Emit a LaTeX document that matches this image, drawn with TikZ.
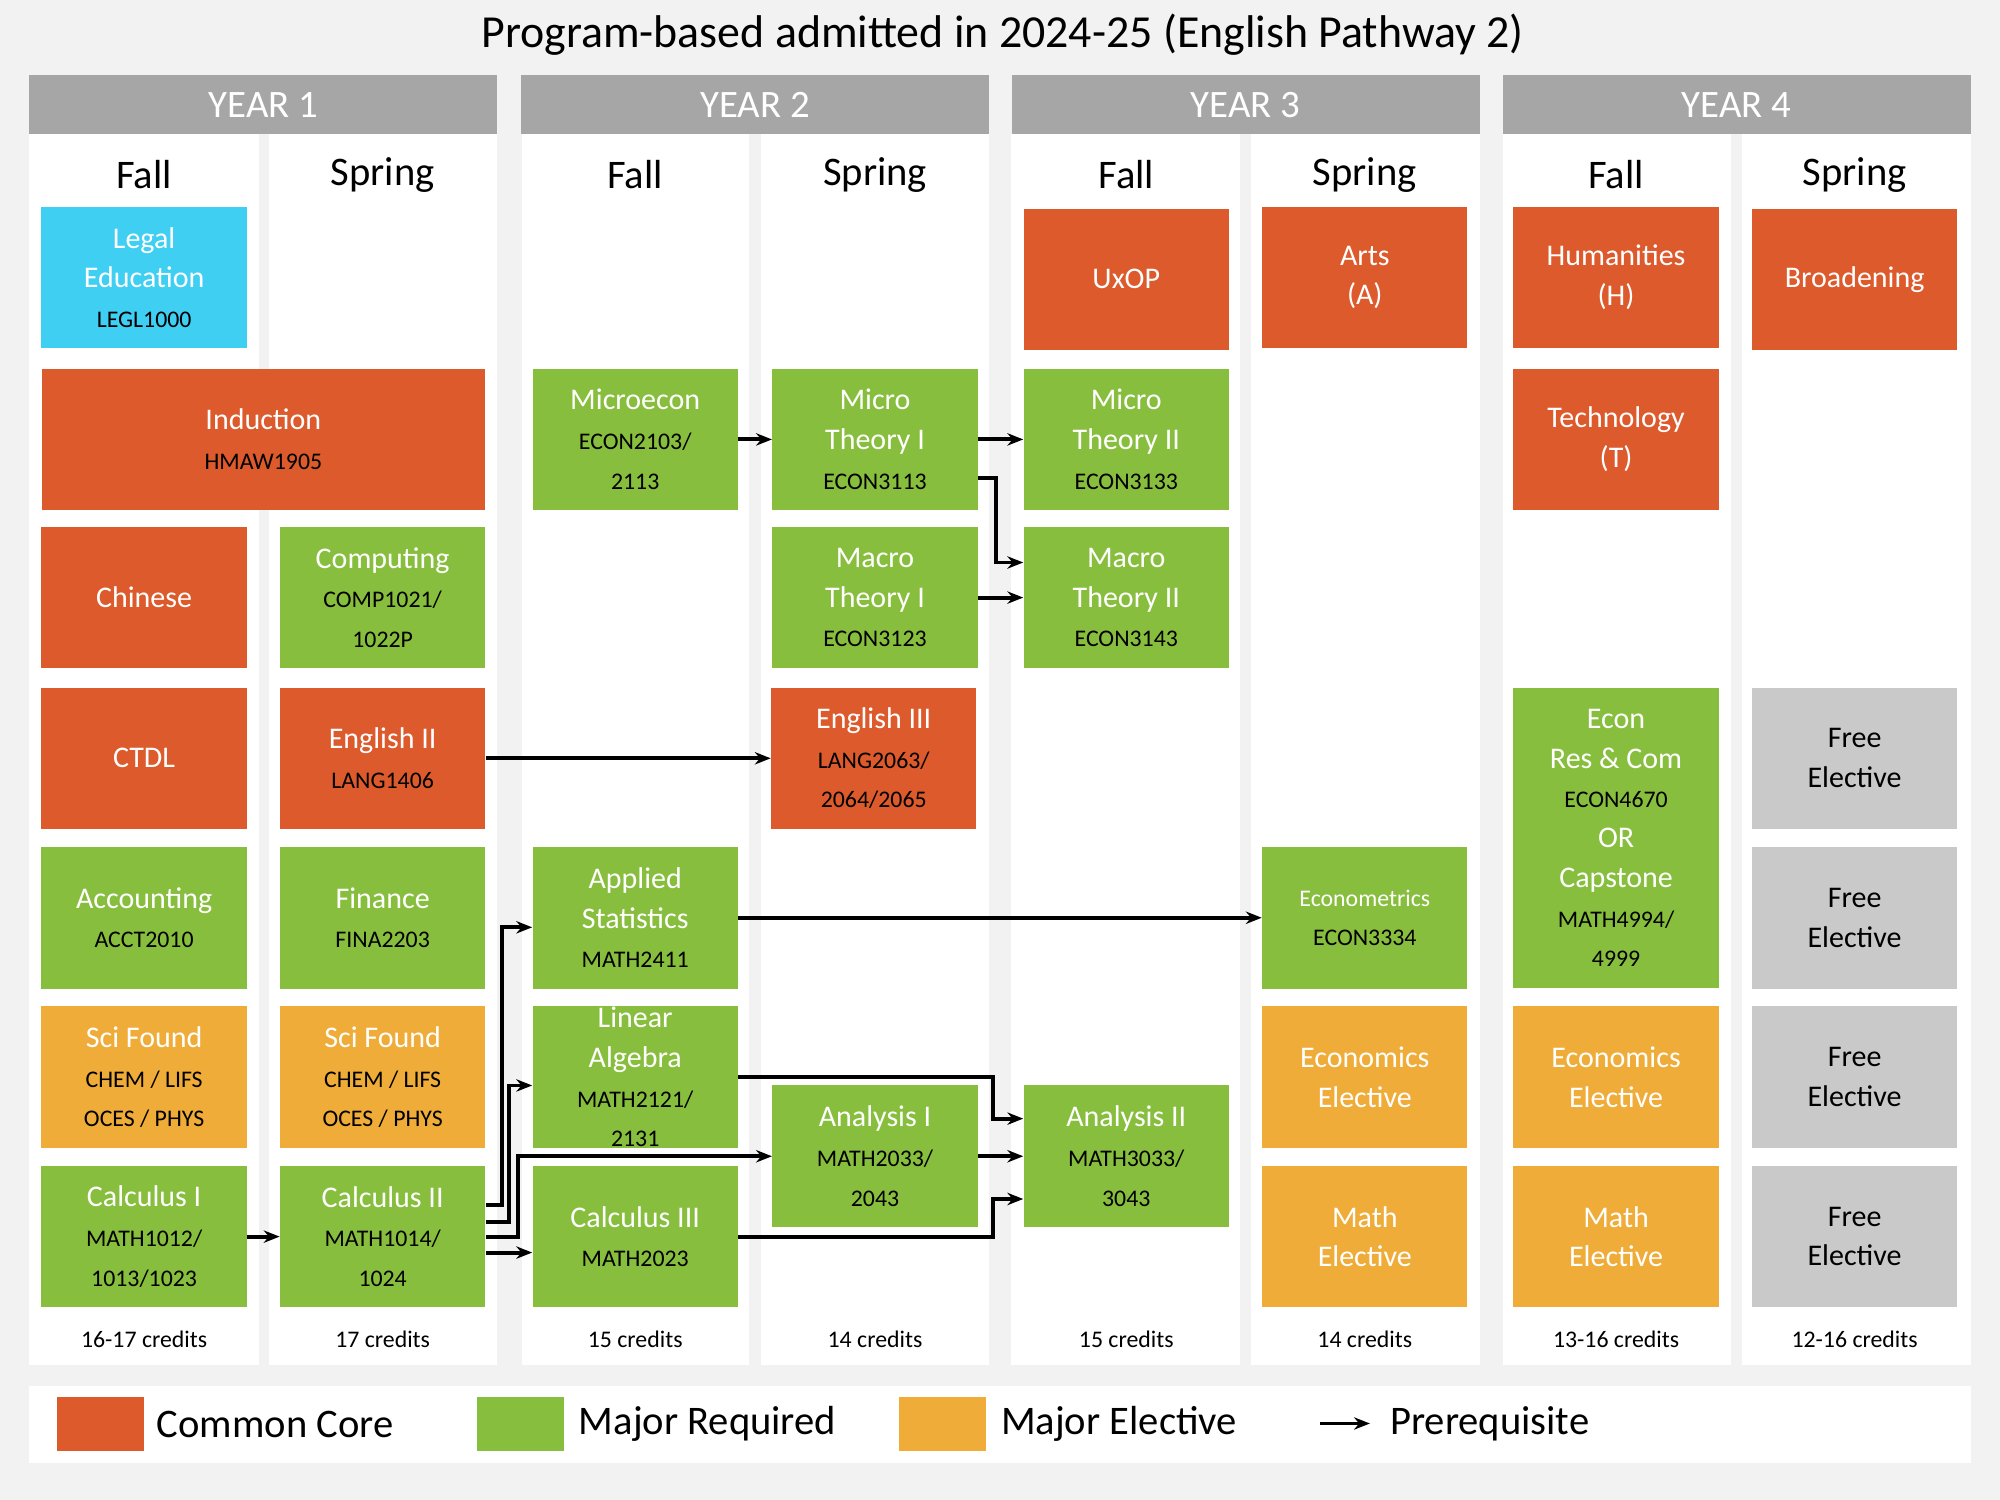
\documentclass[tikz,border=0pt]{standalone}
\usepackage{fontspec}
\setmainfont{Carlito}
\usetikzlibrary{calc,arrows.meta}
\definecolor{cc}{HTML}{DC5A2C}
\definecolor{mr}{HTML}{88BE3E}
\definecolor{me}{HTML}{EFAC38}
\definecolor{le}{HTML}{3FCFF2}
\definecolor{fe}{HTML}{C9C9C9}
\definecolor{hd}{HTML}{A6A6A6}
\definecolor{bg}{HTML}{F2F2F2}
\newcommand\ft{\fontsize{17}{22.5}\selectfont}
\newcommand\fc{\fontsize{13.5}{19}\selectfont}
\newcommand\blk[1]{{\fc\color{black}#1}}
\begin{document}
\begin{tikzpicture}[x=0.0254cm,y=-0.0254cm,
  cell/.style={minimum width=4.09cm,minimum height=2.82cm,inner sep=0pt,align=center,font=\ft,text=white},
  col/.style={fill=white},
  hdr/.style={fill=hd,minimum width=9.32cm,minimum height=1.17cm,inner sep=0pt,text=white,font=\fontsize{22}{26}\selectfont},
  sem/.style={font=\fontsize{23}{27}\selectfont},
  cred/.style={font=\fontsize{13.5}{16}\selectfont},
  arr/.style={-{Stealth[length=9pt,width=7pt]},line width=2.2pt},
  leg/.style={font=\fontsize{23}{27}\selectfont,anchor=west}]
\fill[bg] (0,0) rectangle (1568,1176);
\useasboundingbox (0,0) rectangle (1568,1176);
\node[font=\fontsize{26}{30}\selectfont] (title) at (786,27) {Program-based admitted in 2024-25 (English Pathway 2)};
% columns
\foreach \a/\b in {23/203,211/390,409/587,597/775,793/972,981/1160,1178/1357,1366/1545}
  \fill[white] (\a,105) rectangle (\b,1070);
\node[hdr] (y1) at (206.5,82) {YEAR 1};
\node[hdr] (y2) at (592,82) {YEAR 2};
\node[hdr] (y3) at (976.5,82) {YEAR 3};
\node[hdr] (y4) at (1361.5,82) {YEAR 4};
\foreach \x/\s [count=\i] in {113/Fall,300/Spring,498/Fall,686/Spring,883/Fall,1070/Spring,1267/Fall,1454/Spring}
  \node[sem] (s\i) at (\x,137) {\s};
\foreach \x/\c [count=\i] in {113/16-17,300/17,498/15,686/14,883/15,1070/14,1267/13-16,1454/12-16}
  \node[cred] (cr\i) at (\x,1050) {\c{} credits};
% year 1
\node[cell,fill=le] (legl) at (113,217.5) {Legal\\Education\\\blk{LEGL1000}};
\node[cell,fill=cc,minimum width=8.81cm] (ind) at (206.5,344.5) {Induction\\\blk{HMAW1905}};
\node[cell,fill=cc] (chi) at (113,468.5) {Chinese};
\node[cell,fill=cc] (ctdl) at (113,594.5) {CTDL};
\node[cell,fill=mr] (acc) at (113,719.5) {Accounting\\\blk{ACCT2010}};
\node[cell,fill=me] (sci1) at (113,844.5) {Sci Found\\\blk{CHEM / LIFS}\\\blk{OCES / PHYS}};
\node[cell,fill=mr] (cal1) at (113,969.5) {Calculus I\\\blk{MATH1012/}\\\blk{1013/1023}};
\node[cell,fill=mr] (comp) at (300,468.5) {Computing\\\blk{COMP1021/}\\\blk{1022P}};
\node[cell,fill=cc] (eng2) at (300,594.5) {English II\\\blk{LANG1406}};
\node[cell,fill=mr] (fin) at (300,719.5) {Finance\\\blk{FINA2203}};
\node[cell,fill=me] (sci2) at (300,844.5) {Sci Found\\\blk{CHEM / LIFS}\\\blk{OCES / PHYS}};
\node[cell,fill=mr] (cal2) at (300,969.5) {Calculus II\\\blk{MATH1014/}\\\blk{1024}};
% year 2
\node[cell,fill=mr] (mic) at (498,344.5) {Microecon\\\blk{ECON2103/}\\\blk{2113}};
\node[cell,fill=mr] (stat) at (498,719.5) {Applied\\Statistics\\\blk{MATH2411}};
\node[cell,fill=mr] (lin) at (498,844.5) {Linear\\Algebra\\\blk{MATH2121/}\\\blk{2131}};
\node[cell,fill=mr] (cal3) at (498,969.5) {Calculus III\\\blk{MATH2023}};
\node[cell,fill=mr] (mt1) at (686,344.5) {Micro\\Theory I\\\blk{ECON3113}};
\node[cell,fill=mr] (ma1) at (686,468.5) {Macro\\Theory I\\\blk{ECON3123}};
\node[cell,fill=cc] (eng3) at (685,594.5) {English III\\\blk{LANG2063/}\\\blk{2064/2065}};
\node[cell,fill=mr] (an1) at (686,906.5) {Analysis I\\\blk{MATH2033/}\\\blk{2043}};
% year 3
\node[cell,fill=cc] (uxop) at (883,219) {UxOP};
\node[cell,fill=mr] (mt2) at (883,344.5) {Micro\\Theory II\\\blk{ECON3133}};
\node[cell,fill=mr] (ma2) at (883,468.5) {Macro\\Theory II\\\blk{ECON3143}};
\node[cell,fill=mr] (an2) at (883,906.5) {Analysis II\\\blk{MATH3033/}\\\blk{3043}};
\node[cell,fill=cc] (arts) at (1070,217.5) {Arts\\(A)};
\node[cell,fill=mr] (ectr) at (1070,719.5) {{\fc Econometrics}\\\blk{ECON3334}};
\node[cell,fill=me] (ee1) at (1070,844.5) {Economics\\Elective};
\node[cell,fill=me] (mel1) at (1070,969.5) {Math\\Elective};
% year 4
\node[cell,fill=cc] (hum) at (1267,217.5) {Humanities\\(H)};
\node[cell,fill=cc] (tech) at (1267,344.5) {Technology\\(T)};
\node[cell,fill=mr,minimum height=5.99cm] (res) at (1267,657) {Econ\\Res \& Com\\\blk{ECON4670}\\OR\\Capstone\\\blk{MATH4994/}\\\blk{4999}};
\node[cell,fill=me] (ee2) at (1267,844.5) {Economics\\Elective};
\node[cell,fill=me] (mel2) at (1267,969.5) {Math\\Elective};
\node[cell,fill=cc] (broad) at (1454,219) {Broadening};
\foreach \y [count=\i] in {594.5,719.5,844.5,969.5}
  \node[cell,fill=fe,text=black] (fe\i) at (1454,\y) {Free\\Elective};
% arrows
\draw[arr] (mic.east) -- (mt1.west);
\draw[arr] (mt1.east) -- (mt2.west);
\draw[arr] ($(mt1.east)+(0,30.5)$) -- ++(14,0) |- ($(ma2.west)+(0,-27.5)$);
\draw[arr] (ma1.east) -- (ma2.west);
\draw[arr] (eng2.east) -- (eng2.east -| eng3.west);
\draw[arr] (stat.east) -- (ectr.west);
\draw[arr] (cal1.east) -- (cal2.west);
\draw[arr] ($(cal2.east)+(0,-24.5)$) -- ++(13,0) |- ($(stat.west)+(0,7.5)$);
\draw[arr] ($(cal2.east)+(0,-11.5)$) -- ++(18,0) |- ($(lin.west)+(0,6.5)$);
\draw[arr] ($(cal2.east)+(0,0.5)$) -- ++(25,0) |- (an1.west);
\draw[arr] ($(cal2.east)+(0,12.5)$) -- ($(cal3.west)+(0,12.5)$);
\draw[arr] (lin.east) -- ++(200,0) |- ($(an2.west)+(0,-29.5)$);
\draw[arr] (an1.east) -- (an2.west);
\draw[arr] (cal3.east) -- ++(200,0) |- ($(an2.west)+(0,33.5)$);
% legend
\fill[white] (23,1087) rectangle (1545,1147);
\node[fill=cc,minimum width=1.73cm,minimum height=1.09cm,inner sep=0] (l1) at (79,1116.5) {};
\node[leg] (t1) at (118,1116.5) {Common Core};
\node[fill=mr,minimum width=1.73cm,minimum height=1.09cm,inner sep=0] (l2) at (408,1116.5) {};
\node[leg] (t2) at (449,1116.5) {Major Required};
\node[fill=me,minimum width=1.73cm,minimum height=1.09cm,inner sep=0] (l3) at (739,1116.5) {};
\node[leg] (t3) at (780,1116.5) {Major Elective};
\coordinate (la) at (1035,1116);
\coordinate (lb) at (1074,1116);
\draw[arr] (la) -- (lb);
\node[leg] (t4) at (1085,1116.5) {Prerequisite};
\end{tikzpicture}
\end{document}
